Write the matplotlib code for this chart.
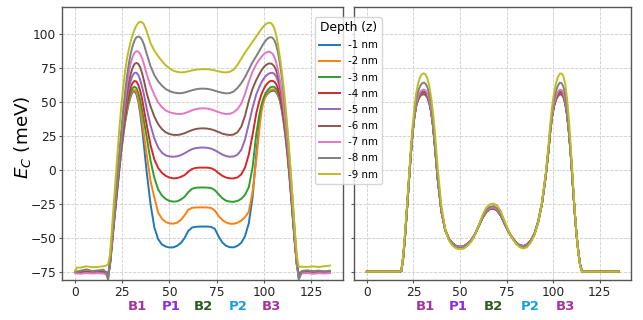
import matplotlib
matplotlib.use("Agg")
import matplotlib.pyplot as plt
from matplotlib.transforms import blended_transform_factory

plt.rcParams['font.family'] = ['DejaVu Sans']

# ---------------- data ----------------
X = [0, 1, 3, 6, 9, 12, 15,
     16.5, 17.5, 18.5, 19.5, 20.5, 21.5, 22.5, 23.5, 24.5, 25.5, 26.5, 27.5, 28.5, 29.5, 30.5, 31.5, 32.5, 33.5, 34.5, 35.5, 36.5,
     38, 40, 42, 44, 46, 48, 50, 52, 54, 56, 58, 60, 62, 64, 66, 68, 70, 72, 74, 76, 78, 80, 82, 84, 86, 88, 90, 92, 94, 96,
     97.5, 98.5, 99.5, 100.5, 101.5, 102.5, 103.5, 104.5, 105.5, 106.5, 107.5, 108.5, 109.5, 110.5, 111.5, 112.5, 113.5, 114.5, 115.5, 116.5, 117.5, 118.5,
     120, 123, 126, 129, 132, 135]

DEPTHS = ['-1 nm', '-2 nm', '-3 nm', '-4 nm', '-5 nm', '-6 nm', '-7 nm', '-8 nm', '-9 nm']

# left panel
L1 = [-74.6, -74.8, -74.5, -75.0, -74.6, -74.8, -74.5,
      -75.0, -77.0, -70.0, -56.0, -41.0, -27.0, -13.0, 1.0, 14.0, 25.0, 35.0, 43.0, 49.5, 54.5, 57.5, 58.2, 56.0, 50.5, 42.0, 31.0, 18.0,
      -2, -25, -42, -50.5, -54.5, -56, -56.7, -56.6, -55.5, -53.5, -49.8, -44.5, -42, -41.5, -41.3, -41.3, -41.3, -41.5, -43, -48.5, -53, -55.5, -56.5, -56.6, -55.5, -53.3, -48.5, -39, -20, 12,
      33, 44, 50, 53.5, 55.5, 57, 58, 58.5, 58.5, 57.5, 55, 51, 44, 35, 24, 11, -4, -21, -38, -55, -70, -77,
      -74.8, -74.5, -74.7, -74.4, -74.6, -74.5]
L2 = [-74.8, -74.6, -75.0, -74.5, -74.8, -74.6, -74.8,
      -75.0, -77.5, -69.0, -55.0, -40.0, -26.0, -12.0, 2.0, 15.0, 26.0, 36.0, 44.0, 50.5, 55.5, 58.5, 59.3, 57.5, 52.5, 45.0, 36.0, 26.0,
      11, -8, -20, -31, -35.5, -38, -39, -39.2, -38.5, -36.5, -33, -29, -27.5, -27.3, -27.2, -27.2, -27.3, -27.6, -29.5, -33.5, -36.5, -38.3, -39.2, -39.3, -38.5, -37, -34.5, -30.5, -16, 8,
      29, 41, 48.5, 53.3, 56.3, 58, 59, 59.5, 59.5, 58.5, 56, 52, 45.5, 36.5, 25, 12, -3, -20, -38, -55, -70, -77.5,
      -74.6, -74.8, -74.5, -74.8, -74.5, -74.7]
L3 = [-74.5, -74.9, -74.6, -74.8, -74.5, -74.9, -74.6,
      -75.2, -78.0, -69.0, -54.0, -39.0, -25.0, -11.0, 3.0, 16.0, 27.5, 37.5, 46.0, 52.5, 57.5, 60.5, 61.5, 60.5, 57.0, 51.5, 44.0, 36.0,
      24, 7, -5.5, -14, -18.5, -21, -22.5, -23, -22.8, -21.5, -19.5, -16, -13.5, -12.8, -12.6, -12.6, -12.7, -13, -14.5, -17.5, -20.5, -22.3, -23, -23.1, -22.5, -21, -18, -12.5, 2, 27,
      40, 47, 52, 55.5, 58, 59.8, 61, 61.5, 61.3, 60, 57.5, 53, 46.5, 37.5, 26, 13, -2, -19, -37, -54, -69, -77,
      -74.7, -74.4, -74.8, -74.5, -74.7, -74.5]
L4 = [-74.7, -74.5, -74.8, -74.4, -74.9, -74.6, -74.7,
      -75.0, -77.5, -68.5, -53.5, -38.5, -24.0, -10.0, 4.0, 17.5, 29.5, 40.0, 49.0, 56.0, 61.0, 64.3, 65.7, 65.3, 62.8, 58.5, 52.5, 44.5,
      33, 18.5, 8, 1.8, -1.8, -4, -5.3, -5.9, -5.7, -4.8, -3.5, -1, 1, 1.8, 2, 2, 2, 1.6, 0.3, -2, -4, -5.3, -5.9, -5.9, -5.2, -3, 2, 11.5, 26, 42,
      50.5, 55, 58.5, 61.3, 63.3, 64.8, 65.7, 65.8, 65.2, 63.5, 60, 55, 48, 39, 28, 14.5, -1, -18, -36, -53.5, -69, -77.5,
      -74.5, -74.8, -74.4, -74.7, -74.6, -74.8]
L5 = [-74.6, -74.8, -74.4, -74.9, -74.5, -74.8, -74.5,
      -75.3, -78.0, -68.0, -53.0, -38.0, -23.5, -9.0, 5.0, 19.0, 32.0, 43.5, 53.0, 60.5, 66.0, 69.8, 71.7, 71.8, 70.0, 66.5, 61.5, 55.5,
      45, 33, 23.5, 16.8, 13, 11, 10.2, 10, 10.3, 11.2, 12.5, 14.2, 15.6, 16.4, 16.7, 16.8, 16.6, 16, 14.8, 13.2, 11.6, 10.5, 10, 10.2, 11.5, 15, 22.5, 34, 46, 56,
      61, 64, 66.5, 68.5, 70, 71, 71.6, 71.7, 71, 69, 65.5, 60, 52.5, 43, 31.5, 17.5, 1.5, -16, -35, -53, -69, -78,
      -75.0, -74.6, -74.8, -74.5, -74.7, -74.5]
L6 = [-74.5, -74.7, -74.9, -74.5, -74.7, -74.5, -74.8,
      -75.5, -78.5, -67.5, -52.0, -36.5, -21.5, -7.0, 7.5, 21.5, 35.0, 47.0, 57.0, 65.0, 71.0, 75.5, 78.2, 79.0, 78.2, 75.8, 71.5, 66.0,
      56.5, 47, 39.5, 34, 30.3, 28, 26.7, 26.1, 26, 26.4, 27.3, 28.5, 29.6, 30.4, 30.8, 30.9, 30.7, 30.2, 29.3, 28.2, 27, 26.3, 26, 26.3, 28, 32, 40, 51, 60, 66.5,
      70.5, 73, 75, 76.7, 77.8, 78.5, 78.6, 78, 76.5, 73.5, 69, 62.5, 54.5, 44.5, 33, 19.5, 4, -14, -33.5, -52, -68, -79,
      -74.8, -74.5, -74.7, -74.4, -74.8, -74.6]
L7 = [-75.5, -75.8, -76.0, -75.5, -75.8, -75.6, -75.8,
      -76.5, -80.0, -67.0, -51.0, -35.0, -19.5, -4.5, 10.5, 25.0, 39.0, 52.0, 63.0, 72.0, 78.8, 83.5, 86.5, 87.6, 87.3, 85.5, 82.5, 78.0,
      70.5, 62, 55.5, 50, 46.5, 44, 42.7, 42, 41.5, 41.4, 42, 43, 44.2, 45, 45.5, 45.6, 45.4, 44.8, 43.9, 42.8, 41.9, 41.4, 41.6, 42.7, 45, 49, 56, 65, 72.5, 78,
      81.2, 83, 84.7, 86, 86.9, 87.2, 86.9, 85.8, 83.5, 79.5, 73.5, 66, 57, 46, 34, 20, 4.5, -13, -32.5, -51, -70, -80,
      -75.8, -75.5, -76.0, -75.6, -75.8, -75.5]
L8 = [-74.0, -74.5, -73.8, -72.8, -74.0, -73.6, -73.0,
      -75.0, -80.5, -66.0, -49.5, -33.0, -17.0, -1.5, 14.0, 29.0, 44.0, 57.5, 69.0, 78.5, 86.0, 91.5, 95.5, 97.8, 98.4, 97.8, 95.8, 92.5,
      85.5, 76.5, 70, 65.5, 62.3, 59.8, 58.3, 57.3, 56.8, 56.7, 57.2, 58, 58.9, 59.6, 60, 60.1, 59.9, 59.4, 58.6, 57.7, 57, 56.6, 56.8, 58, 60.5, 64, 68.5, 74, 79.5, 84,
      87.5, 90, 92.5, 94.5, 96.2, 97.4, 97.9, 97.5, 95.8, 92.3, 86.5, 78.5, 68.5, 56.5, 42.5, 27, 10, -8, -28, -48, -66, -80,
      -74.0, -73.5, -74.2, -73.7, -74.3, -73.8]
L9 = [-74.0, -71.5, -71.5, -70.5, -71.2, -71.0, -70.5,
      -70.0, -69.0, -62.0, -44.0, -25.0, -6.0, 13.0, 31.0, 47.0, 61.0, 73.0, 82.0, 89.0, 95.0, 99.5, 103.5, 106.5, 108.5, 109.2, 108.8, 107.3,
      102, 93.5, 88, 84, 80.3, 77.3, 75, 73.3, 72.4, 72, 72.2, 72.8, 73.5, 74, 74.3, 74.4, 74.3, 74, 73.5, 72.8, 72.2, 72, 72.5, 74, 77.5, 82, 86.5, 90.5, 94.5, 98.5,
      101.5, 103.5, 105.3, 106.8, 107.9, 108.5, 108.4, 107.3, 104.5, 99.5, 92, 83, 73, 61, 47, 31, 13, -6, -26, -46, -63, -71,
      -70.8, -71.0, -70.6, -71.0, -70.5, -70.0]

# right panel
R1 = [-74.5, -74.5, -74.5, -74.5, -74.5, -74.5, -74.5,
      -74.5, -74.5, -74.0, -64.0, -48.0, -29.0, -9.0, 10.5, 27.0, 39.5, 47.5, 52.0, 54.5, 55.6, 55.9, 55.4, 53.5, 49.5, 43.0, 32.5, 18.0,
      -6, -30, -43.5, -50.3, -53.8, -55.6, -56.2, -55.8, -54, -51.5, -47, -41, -35, -30.7, -28.4, -28.1, -29.6, -33.5, -39.5, -45, -49.5, -53, -55, -55.6, -54.5, -51.5, -46.5, -37.5, -24, -4,
      15, 30, 40.5, 47.5, 52, 54.6, 55.8, 55.7, 53.8, 49, 40, 27, 10, -10, -30, -47, -60, -70, -74.3, -74.5, -74.5, -74.5,
      -74.5, -74.5, -74.5, -74.5, -74.5, -74.5]
R2 = [-74.5, -74.5, -74.5, -74.5, -74.5, -74.5, -74.5,
      -74.5, -74.5, -74.0, -64.0, -48.0, -29.0, -9.0, 10.5, 27.0, 39.6, 47.6, 52.1, 54.6, 55.8, 56.1, 55.6, 53.7, 49.6, 43.1, 32.6, 18.0,
      -6, -30, -43.5, -50.3, -53.8, -55.7, -56.3, -55.9, -54, -51.5, -47, -41, -35, -30.6, -28.3, -28.0, -29.5, -33.5, -39.5, -45, -49.5, -53, -55.1, -55.7, -54.6, -51.5, -46.5, -37.5, -24, -4,
      15, 30, 40.6, 47.6, 52.1, 54.8, 56.0, 55.9, 54.0, 49.1, 40.1, 27, 10, -10, -30, -47, -60, -70, -74.3, -74.5, -74.5, -74.5,
      -74.5, -74.5, -74.5, -74.5, -74.5, -74.5]
R3 = [-74.5, -74.5, -74.5, -74.5, -74.5, -74.5, -74.5,
      -74.5, -74.5, -74.0, -64.0, -48.0, -29.0, -9.0, 10.5, 27.1, 39.6, 47.7, 52.3, 54.8, 56.0, 56.3, 55.8, 53.9, 49.8, 43.2, 32.7, 18.1,
      -6, -30, -43.5, -50.3, -53.8, -55.7, -56.3, -55.9, -54, -51.5, -47, -41, -35, -30.6, -28.3, -28.0, -29.5, -33.5, -39.5, -45, -49.5, -53, -55.1, -55.7, -54.6, -51.5, -46.5, -37.5, -24, -4,
      15, 30.1, 40.7, 47.7, 52.3, 55.0, 56.2, 56.1, 54.2, 49.3, 40.2, 27.1, 10.1, -10, -30, -47, -60, -70, -74.3, -74.5, -74.5, -74.5,
      -74.5, -74.5, -74.5, -74.5, -74.5, -74.5]
R4 = [-74.5, -74.5, -74.5, -74.5, -74.5, -74.5, -74.5,
      -74.5, -74.5, -74.0, -64.0, -48.0, -29.0, -9.0, 10.5, 27.1, 39.7, 47.9, 52.6, 55.2, 56.4, 56.7, 56.2, 54.2, 50.1, 43.5, 32.8, 18.2,
      -6, -30, -43.5, -50.3, -53.8, -55.7, -56.3, -55.9, -54, -51.5, -47, -41, -35, -30.5, -28.2, -28.0, -29.4, -33.4, -39.5, -45, -49.5, -53, -55.1, -55.7, -54.6, -51.5, -46.5, -37.5, -24, -4,
      15.1, 30.2, 40.8, 47.9, 52.6, 55.3, 56.6, 56.5, 54.5, 49.6, 40.4, 27.3, 10.1, -9.9, -30, -47, -60, -70, -74.3, -74.5, -74.5, -74.5,
      -74.5, -74.5, -74.5, -74.5, -74.5, -74.5]
R5 = [-74.5, -74.5, -74.5, -74.5, -74.5, -74.5, -74.5,
      -74.5, -74.5, -74.0, -64.0, -48.0, -29.0, -9.0, 10.5, 27.2, 39.9, 48.2, 52.9, 55.6, 56.8, 57.2, 56.7, 54.6, 50.5, 43.8, 33.0, 18.4,
      -5.9, -30, -43.5, -50.3, -53.8, -55.7, -56.3, -55.9, -54, -51.5, -47, -41, -35, -30.4, -28.2, -27.9, -29.4, -33.4, -39.5, -45, -49.5, -53, -55.1, -55.7, -54.6, -51.5, -46.5, -37.5, -24, -4,
      15.1, 30.3, 41.0, 48.2, 53.0, 55.8, 57.1, 57.0, 55.0, 49.9, 40.7, 27.4, 10.2, -9.9, -30, -47, -60, -70, -74.3, -74.5, -74.5, -74.5,
      -74.5, -74.5, -74.5, -74.5, -74.5, -74.5]
R6 = [-74.5, -74.5, -74.5, -74.5, -74.5, -74.5, -74.5,
      -74.5, -74.5, -74.0, -64.0, -48.0, -29.0, -9.0, 10.5, 27.3, 40.1, 48.6, 53.5, 56.3, 57.6, 58.0, 57.4, 55.3, 51.1, 44.2, 33.4, 18.6,
      -5.7, -30, -43.5, -50.4, -53.9, -55.8, -56.3, -55.9, -54.1, -51.5, -47, -41, -35, -30.3, -28.0, -27.7, -29.2, -33.3, -39.4, -45, -49.5, -53.1, -55.2, -55.8, -54.7, -51.6, -46.5, -37.5, -24, -3.9,
      15.2, 30.5, 41.3, 48.7, 53.6, 56.5, 57.9, 57.8, 55.6, 50.5, 41.1, 27.7, 10.4, -9.8, -30, -47, -60, -70, -74.3, -74.5, -74.5, -74.5,
      -74.5, -74.5, -74.5, -74.5, -74.5, -74.5]
R7 = [-74.5, -74.5, -74.5, -74.5, -74.5, -74.5, -74.5,
      -74.5, -74.5, -74.0, -64.0, -48.0, -29.0, -9.0, 10.5, 27.5, 40.5, 49.3, 54.5, 57.5, 58.9, 59.4, 58.8, 56.6, 52.1, 45.0, 34.0, 19.0,
      -5.6, -29.9, -43.6, -50.4, -54, -55.8, -56.4, -56, -54.2, -51.6, -47, -40.8, -34.6, -30, -27.6, -27.3, -28.8, -32.9, -39.1, -44.8, -49.6, -53.2, -55.3, -55.9, -54.8, -51.7, -46.6, -37.5, -23.9, -3.8,
      15.4, 30.8, 41.8, 49.5, 54.6, 57.8, 59.3, 59.1, 56.9, 51.5, 41.8, 28.2, 10.6, -9.7, -30, -47, -60, -70, -74.3, -74.5, -74.5, -74.5,
      -74.5, -74.5, -74.5, -74.5, -74.5, -74.5]
R8 = [-74.5, -74.5, -74.5, -74.5, -74.5, -74.5, -74.5,
      -74.5, -74.5, -74.0, -63.5, -47.5, -28.5, -8.5, 11.0, 28.3, 42.1, 51.8, 58.0, 61.8, 63.8, 64.5, 63.7, 61.1, 56.0, 48.0, 36.1, 20.4,
      -5, -29.7, -43.8, -50.7, -54.3, -56.2, -56.9, -56.5, -54.6, -51.8, -47, -40.6, -34.2, -29.4, -26.8, -26.3, -28, -32.3, -38.7, -44.7, -49.7, -53.5, -55.7, -56.4, -55.2, -52, -46.8, -37.6, -23.8, -3.5,
      15.9, 31.9, 43.8, 52.3, 58.5, 62.3, 64.4, 64.1, 61.4, 55.2, 44.5, 29.8, 11.5, -9.3, -30, -47, -60.5, -70.2, -74.4, -74.5, -74.5, -74.5,
      -74.5, -74.5, -74.5, -74.5, -74.5, -74.5]
R9 = [-74.5, -74.5, -74.5, -74.5, -74.5, -74.5, -74.5,
      -74.5, -74.5, -73.5, -62.0, -45.0, -26.0, -6.0, 14.0, 32.0, 46.5, 57.0, 64.0, 68.3, 70.5, 71.3, 70.5, 67.5, 62.0, 53.5, 42.0, 28.0,
      2, -26, -43, -51.5, -55.5, -57.4, -58, -57.5, -55.5, -52.5, -47.5, -40.5, -33, -27.5, -25, -24.5, -26, -30.5, -37.5, -44.5, -50, -54, -56.5, -57.5, -56.5, -53, -47.5, -38, -23, -2,
      19, 35, 48, 57.5, 64, 68.5, 71, 71.2, 69, 63, 52, 36, 16, -6, -28, -47, -61, -70.5, -74.5, -74.5, -74.5, -74.5,
      -74.5, -74.5, -74.5, -74.5, -74.5, -74.5]

LEFT = [L1, L2, L3, L4, L5, L6, L7, L8, L9]
RIGHT = [R1, R2, R3, R4, R5, R6, R7, R8, R9]

GATES = ['B1', 'P1', 'B2', 'P2', 'B3']
GATE_COLORS = ['#a3349e', '#8a2be2', '#2f5a1e', '#1a9fdc', '#a3349e']
GATE_X_LEFT = [33, 50.7, 67.8, 86.2, 103.9]
GATE_X_RIGHT = [31.2, 49.1, 67.9, 87.5, 106.3]

COLORS = ['tab:blue', 'tab:orange', 'tab:green', 'tab:red', 'tab:purple',
          'tab:brown', 'tab:pink', 'tab:gray', 'tab:olive']

# ---------------- figure ----------------
fig = plt.figure(figsize=(6.43, 3.2), dpi=100)
W, H = 643, 320
axL = fig.add_axes([62.3 / W, 1 - 280 / H, 280.4 / W, 273.3 / H])
axR = fig.add_axes([354.3 / W, 1 - 280 / H, 276.7 / W, 273.3 / H], sharey=axL)

handles = []
for ys, c, lab in zip(LEFT, COLORS, DEPTHS):
    h, = axL.plot(X, ys, color=c, lw=1.4, label=lab)
    handles.append(h)
for ys, c in zip(RIGHT, COLORS):
    axR.plot(X, ys, color=c, lw=1.4)

for ax, gx in ((axL, GATE_X_LEFT), (axR, GATE_X_RIGHT)):
    ax.set_ylim(-80.6, 120.3)
    ax.set_xticks([0, 25, 50, 75, 100, 125])
    ax.set_yticks([-75, -50, -25, 0, 25, 50, 75, 100])
    ax.grid(True, linestyle='--', color='#cccccc', linewidth=0.6)
    ax.set_axisbelow(True)
    for s in ax.spines.values():
        s.set_color('#555555')
        s.set_linewidth(1.0)
    ax.tick_params(axis='both', labelsize=8.8, colors='#555555', labelcolor='#222222',
                   length=2.5, width=0.8, pad=1.8)
    tr = blended_transform_factory(ax.transData, ax.transAxes)
    for g, x, c in zip(GATES, gx, GATE_COLORS):
        ax.text(x, -0.097, g, transform=tr, ha='center', va='center',
                fontsize=9.5, fontweight='bold', color=c)

axR.tick_params(labelleft=False)
axL.set_ylabel('$E_C$ (meV)', fontsize=13.2)
axL.yaxis.set_label_coords(-0.105, 0.524)

fig.legend(handles, DEPTHS, title='Depth (z)', loc='upper left',
           bbox_to_anchor=(315 / W, 1 - 17 / H), borderaxespad=0,
           fontsize=7.4, title_fontsize=8.8, labelspacing=0.6)

fig.savefig('out.png', dpi=100)
